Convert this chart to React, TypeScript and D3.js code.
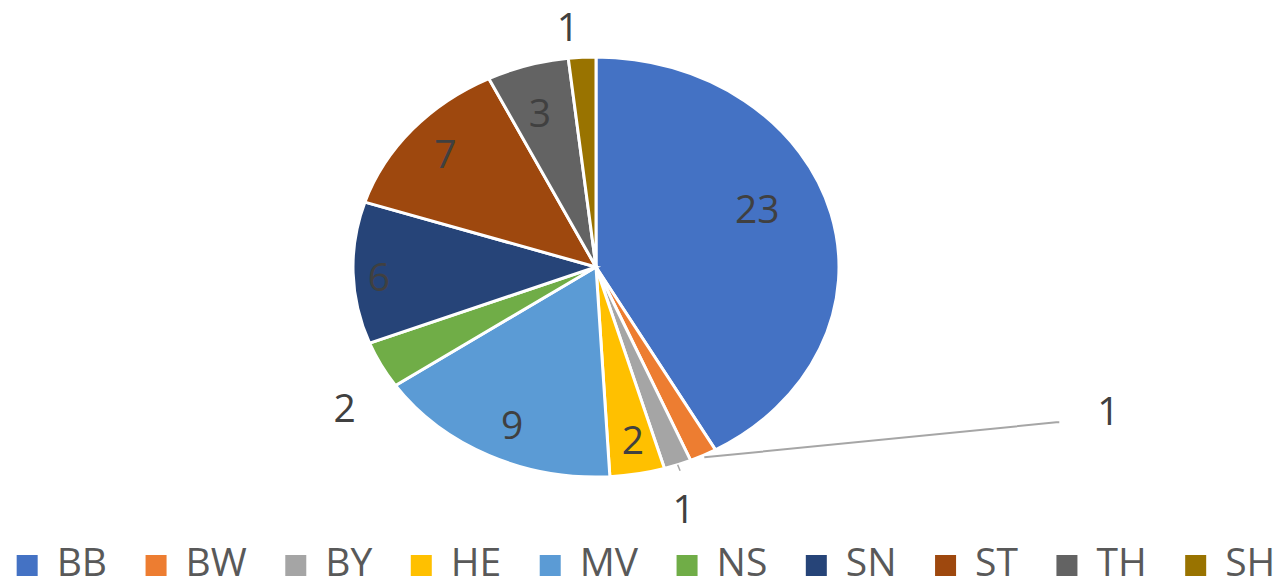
import React, { useEffect, useRef } from "react";
import * as d3 from "d3";

const categories = ["BB", "BW", "BY", "HE", "MV", "NS", "SN", "ST", "TH", "SH"];
const values = [23, 1, 1, 2, 9, 2, 6, 7, 3, 1];
const colors = ["#4472C4", "#ED7D31", "#A5A5A5", "#FFC000", "#5B9BD5", "#70AD47", "#264478", "#9E480E", "#636363", "#997300"];
// label placement mode per slice: "in" = inside, "out" = outside, "lead" = dragged with leader line
const labelModes = ["in", "lead", "out", "in", "in", "out", "in", "in", "in", "out"];

const W = 1277;
const H = 581;

export default function App() {
  const ref = useRef<SVGSVGElement | null>(null);

  useEffect(() => {
    const svg = d3.select(ref.current);
    svg.selectAll("*").remove();

    const cx = 596, cy = 267, ry = 210, rx = 243;
    const sx = rx / ry;
    const font = "'Open Sans', 'Segoe UI', sans-serif";
    const txtColor = "#404040";
    // fine nudges of data-label placement (Excel "best fit" look)
    const nudge: Record<string, [number, number]> = {
      BB: [-8, -20], SN: [-18, 5], TH: [0, 11], MV: [4, 3], HE: [3, 3],
      SH: [-12, 3], BY: [-7, 13], NS: [-2, 27],
    };

    const data = categories.map((c, i) => ({ c, v: values[i], color: colors[i], mode: labelModes[i] }));
    const pie = d3.pie<any>().value((d: any) => d.v).sort(null);
    const arcs = pie(data);
    const arc = d3.arc<any>().innerRadius(0).outerRadius(ry);

    const g = svg.append("g").attr("transform", `translate(${cx},${cy}) scale(${sx},1)`);
    g.selectAll("path")
      .data(arcs)
      .join("path")
      .attr("d", arc as any)
      .attr("fill", (d: any) => d.data.color)
      .attr("stroke", "#fff")
      .attr("stroke-width", 3)
      .attr("vector-effect", "non-scaling-stroke");

    const pt = (angle: number, f: number) => [cx + Math.sin(angle) * ry * f * sx, cy - Math.cos(angle) * ry * f];

    const lg = svg.append("g");
    arcs.forEach((a: any) => {
      const mid = (a.startAngle + a.endAngle) / 2;
      let x = 0, y = 0;
      if (a.data.mode === "in") {
        const f = a.data.v > 15 ? 0.72 : 0.82;
        [x, y] = pt(mid, f);
      } else if (a.data.mode === "out") {
        [x, y] = pt(mid, 1.16);
      } else {
        const [x0, y0] = pt(mid, 1.01);
        const x1 = x0 + 352, y1 = y0 - 35;
        lg.append("polyline")
          .attr("points", `${x0},${y0} ${x1},${y1} ${x1 + 3},${y1}`)
          .attr("fill", "none")
          .attr("stroke", "#A6A6A6")
          .attr("stroke-width", 2);
        x = x1 + 52;
        y = y1 - 11;
      }
      const n = nudge[a.data.c];
      if (n) { x += n[0]; y += n[1]; }
      if (a.data.c === "BY") {
        const [x0, y0] = pt(mid, 1.0);
        const [x1, y1] = pt(mid, 1.03);
        lg.append("line").attr("x1", x0).attr("y1", y0).attr("x2", x1).attr("y2", y1)
          .attr("stroke", "#A6A6A6").attr("stroke-width", 1.5);
      }
      lg.append("text")
        .attr("x", x)
        .attr("y", y + 14)
        .attr("text-anchor", "middle")
        .attr("font-family", font)
        .attr("font-size", 39)
        .attr("fill", txtColor)
        .text(a.data.v);
    });

    // legend
    const leg = svg.append("g");
    const markerSize = 21;
    const gapText = 19;
    const gapItem = 38.5;
    const items = data.map((d) => {
      const gi = leg.append("g");
      gi.append("rect").attr("y", -21).attr("width", markerSize).attr("height", markerSize).attr("fill", d.color);
      const t = gi.append("text")
        .attr("x", markerSize + gapText)
        .attr("y", 0)
        .attr("font-family", font)
        .attr("font-size", 39)
        .attr("fill", "#595959")
        .text(d.c);
      const w = (t.node() as SVGTextElement).getComputedTextLength();
      return { gi, w: markerSize + gapText + w };
    });
    const total = items.reduce((s, it) => s + it.w, 0) + gapItem * (items.length - 1);
    let x = 646 - total / 2;
    items.forEach((it) => {
      it.gi.attr("transform", `translate(${x},${576})`);
      x += it.w + gapItem;
    });
  }, []);

  return (
    <svg
      ref={ref}
      width={W}
      height={H}
      style={{ position: "absolute", left: 0, top: 0, display: "block", background: "#fff" }}
    />
  );
}
